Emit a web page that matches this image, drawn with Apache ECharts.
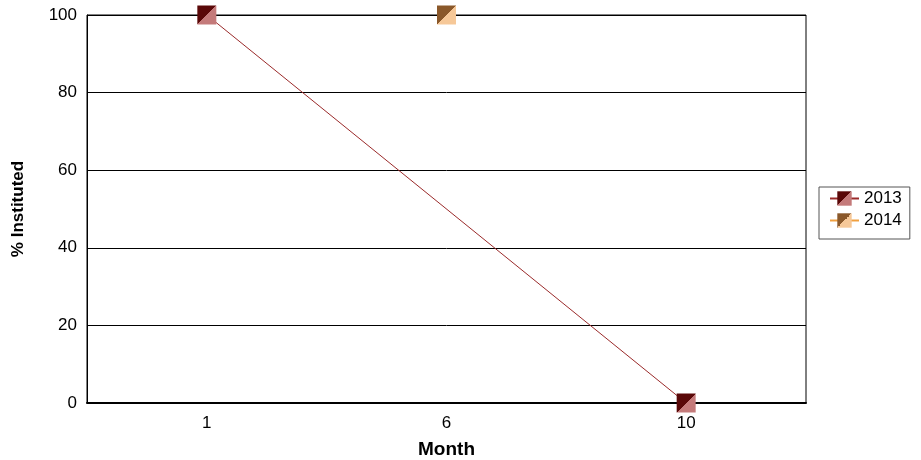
<!DOCTYPE html>
<html>
<head>
<meta charset="utf-8">
<script src="https://cdn.jsdelivr.net/npm/echarts@6/dist/echarts.min.js"></script>
<style>
    html, body {margin: 0; padding: 0; background: #fff;}
    #myChart {width: 921px; height: 460px;}
</style>
</head>
<body>
<div id="myChart"></div>
<script>
//月份
var months = ['1', '6', '10'];
//各年数据
var data2013 = [100, null, 0];
var data2014 = [null, 100, null];
var yTicks = [0, 20, 40, 60, 80, 100];

//对角线双色方块
function splitColor(dark, light) {
    return new echarts.graphic.LinearGradient(0, 0, 1, 1, [
        {offset: 0, color: dark},
        {offset: 0.5, color: dark},
        {offset: 0.5, color: light},
        {offset: 1, color: light}
    ]);
}

window.onload = function () {
    var myChart = echarts.init(document.getElementById('myChart'));
    var option = {
        animation: false,
        textStyle: {fontFamily: 'Liberation Sans, Arial, sans-serif'},
        grid: {
            left: 87,
            right: 115,
            top: 15,
            bottom: 57,
            containLabel: false,
            outerBoundsMode: 'none',
            show: true,
            borderColor: '#000',
            borderWidth: 1
        },
        legend: {
            orient: 'vertical',
            left: 819,
            top: 187,
            width: 91,
            padding: [3, 8, 10, 10],
            itemGap: 5,
            itemWidth: 29,
            itemHeight: 18,
            borderColor: '#555',
            borderWidth: 1,
            backgroundColor: '#fff',
            textStyle: {fontSize: 17, color: '#000'},
            data: ['2013', '2014']
        },
        xAxis: {
            type: 'category',
            data: months,
            boundaryGap: true,
            name: 'Month',
            nameLocation: 'middle',
            nameGap: 37,
            nameTextStyle: {fontSize: 19, fontWeight: 'bold', color: '#000'},
            axisLine: {show: true, lineStyle: {color: '#000', width: 2}},
            axisTick: {show: false},
            axisLabel: {fontSize: 17, color: '#000', margin: 12}
        },
        yAxis: {
            type: 'value',
            min: yTicks[0],
            max: yTicks[yTicks.length - 1],
            interval: 20,
            name: '% Instituted',
            nameLocation: 'middle',
            nameGap: 60,
            nameTextStyle: {fontSize: 17, fontWeight: 'bold', color: '#000'},
            axisLine: {show: true, lineStyle: {color: '#000'}},
            axisTick: {show: false},
            axisLabel: {fontSize: 17, color: '#000', margin: 10},
            splitLine: {show: true, lineStyle: {color: '#000', width: 1}}
        },
        series: [{
            name: '2013',
            type: 'line',
            data: data2013,
            connectNulls: true,
            symbol: 'rect',
            symbolSize: 19,
            lineStyle: {color: '#9a2a2a', width: 1},
            itemStyle: {color: splitColor('#5a0808', '#c47a7a')},
            z: 3
        }, {
            name: '2014',
            type: 'line',
            data: data2014,
            connectNulls: true,
            symbol: 'rect',
            symbolSize: 19,
            lineStyle: {color: '#f0a040', width: 1},
            itemStyle: {color: splitColor('#8a582a', '#f6c898')},
            z: 3
        }]
    };
    myChart.setOption(option);
    window.onresize = myChart.resize;
};
</script>
</body>
</html>
